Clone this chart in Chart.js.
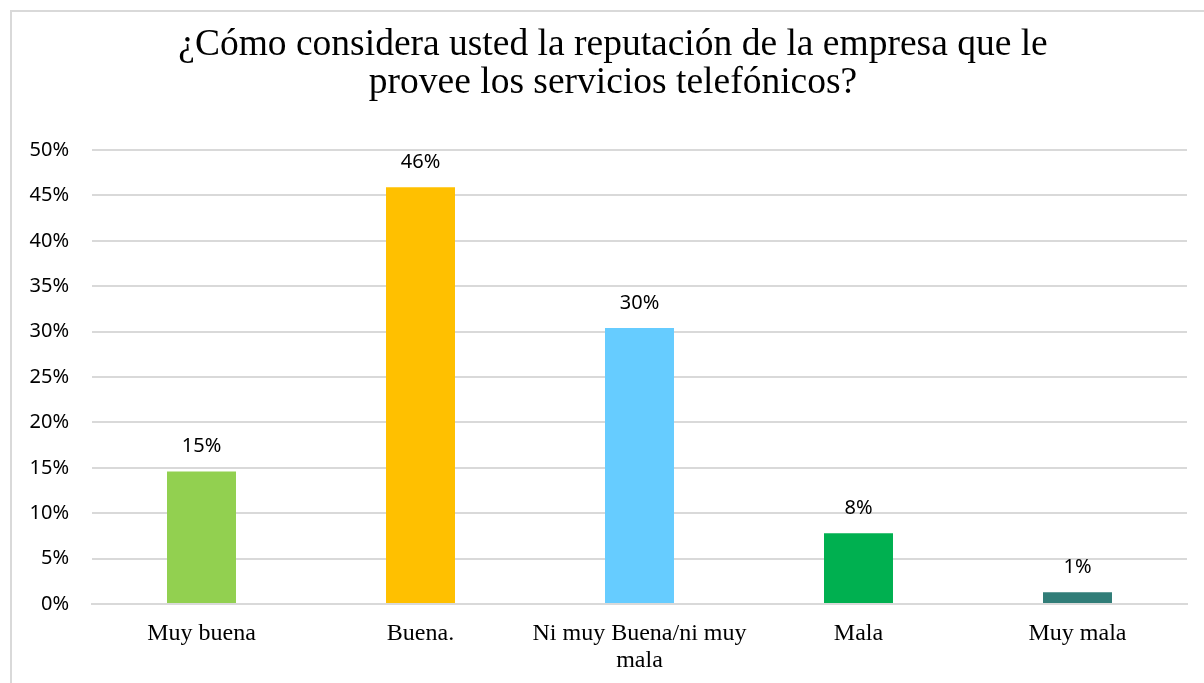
<!DOCTYPE html>
<html>
<head>
<meta charset="utf-8">
<script src="https://cdn.jsdelivr.net/npm/chart.js@4"></script>
<style>
  html, body { margin: 0; padding: 0; background: #ffffff; overflow: hidden; }
  #wrap { position: relative; width: 1204px; height: 683px; }
  #frame { position: absolute; left: 10px; top: 10px; width: 1300px; height: 800px;
           border-top: 2px solid #d9d9d9; border-left: 2px solid #d9d9d9; box-sizing: border-box; }
  canvas { position: absolute; left: 0; top: 0; }
</style>
</head>
<body>
<div id="wrap">
  <div id="frame"></div>
  <canvas id="chart" width="1204" height="683"></canvas>
</div>
<script>
// Survey answers and their share of respondents (percent)
const categories = [
  'Muy buena',
  'Buena.',
  ['Ni muy Buena/ni muy', 'mala'],
  'Mala',
  'Muy mala'
];
const shares = [14.6, 45.9, 30.4, 7.8, 1.3];
const barColors = ['#92D050', '#FFC000', '#66CCFF', '#00B050', '#317D78'];
const yTicks = [0, 5, 10, 15, 20, 25, 30, 35, 40, 45, 50];

const titleLines = [
  '¿Cómo considera usted la reputación de la empresa que le',
  'provee los servicios telefónicos?'
];

// Two-line heading, centred over the plot frame
const heading = {
  id: 'heading',
  afterDraw(chart) {
    const ctx = chart.ctx;
    ctx.save();
    ctx.font = '37.5px "Liberation Serif", "Times New Roman", serif';
    ctx.fillStyle = '#000000';
    ctx.textAlign = 'center';
    ctx.textBaseline = 'middle';
    const cx = 613;
    titleLines.forEach((line, i) => ctx.fillText(line, cx, 45 + i * 38));
    ctx.restore();
  }
};

// Writes the rounded percentage above each bar
const valueLabels = {
  id: 'valueLabels',
  afterDatasetsDraw(chart) {
    const ctx = chart.ctx;
    const meta = chart.getDatasetMeta(0);
    ctx.save();
    ctx.font = '20px "Noto Sans", "Open Sans", sans-serif';
    ctx.fillStyle = '#000000';
    ctx.textAlign = 'center';
    ctx.textBaseline = 'middle';
    meta.data.forEach((bar, i) => {
      ctx.fillText(Math.round(shares[i]) + '%', bar.x, bar.y - 25);
    });
    ctx.restore();
  }
};

new Chart(document.getElementById('chart'), {
  type: 'bar',
  data: {
    labels: categories,
    datasets: [{
      data: shares,
      backgroundColor: barColors,
      borderWidth: 0,
      categoryPercentage: 1,
      barPercentage: 0.315
    }]
  },
  options: {
    responsive: false,
    animation: false,
    layout: { padding: { left: 0, right: 17, top: 150, bottom: 0 } },
    plugins: {
      legend: { display: false },
      tooltip: { enabled: false },
      title: { display: false }
    },
    scales: {
      x: {
        grid: { display: false, drawTicks: false },
        border: { display: true, color: '#d9d9d9', width: 2 },
        ticks: {
          color: '#000000',
          padding: 16,
          maxRotation: 0,
          autoSkip: false,
          font: { family: '"Liberation Serif", "Times New Roman", serif', size: 24, lineHeight: 1.12 }
        },
        afterFit(scale) { scale.height = 79; }
      },
      y: {
        min: 0,
        max: 50,
        afterBuildTicks(scale) { scale.ticks = yTicks.map(v => ({ value: v })); },
        grid: { color: '#d9d9d9', lineWidth: 2, drawTicks: false },
        border: { display: false },
        ticks: {
          color: '#000000',
          padding: 23,
          font: { family: '"Noto Sans", "Open Sans", sans-serif', size: 20 },
          callback: v => v + '%'
        },
        afterFit(scale) { scale.width = 92; }
      }
    }
  },
  plugins: [valueLabels, heading]
});
</script>
</body>
</html>
